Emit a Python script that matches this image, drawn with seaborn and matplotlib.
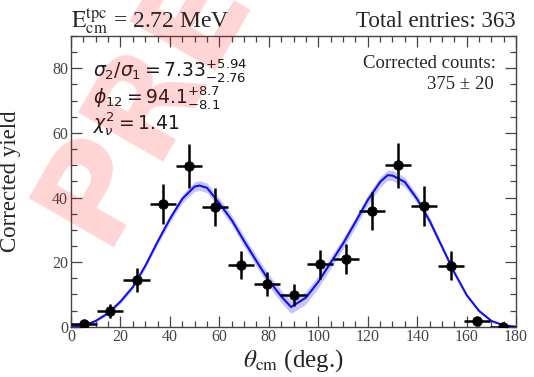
import numpy as np
import pandas as pd
import matplotlib
matplotlib.use("Agg")
import matplotlib.pyplot as plt
import seaborn as sns
from matplotlib.ticker import MultipleLocator

# measured points (bin centres, corrected yield, errors)
theta = [5.3, 15.9, 26.5, 37.1, 47.6, 58.2, 68.8, 79.4, 90.0,
         100.6, 111.2, 121.8, 132.4, 142.9, 153.5, 164.1, 174.7]
yld = [0.8, 4.9, 14.5, 38.1, 49.7, 37.1, 19.0, 13.1, 9.8,
       19.3, 21.0, 35.8, 50.0, 37.5, 18.9, 1.7, 0.0]
yerr = [0.8, 2.2, 3.8, 6.2, 6.8, 6.0, 4.3, 3.7, 3.4,
        4.6, 4.6, 5.9, 7.0, 6.2, 4.4, 1.2, 0.0]
xerr = [5.29] * len(theta)

# fit curve
fit_x = [0, 5, 10, 15, 20, 25, 30, 35, 40, 45, 50, 52, 55, 60, 65, 70, 75, 80, 85, 89,
         95, 100, 105, 110, 115, 120, 125, 128, 130, 135, 140, 145, 150, 155, 160, 165,
         170, 175, 180]
fit_y = [0.0, 0.3, 1.8, 4.2, 7.8, 12.3, 18.8, 26.3, 33.4, 39.6, 43.4, 43.7, 43.0, 38.2,
         33.0, 26.5, 20.3, 14.3, 9.4, 6.1, 9.0, 13.9, 19.8, 25.7, 32.4, 39.2, 44.8, 46.9,
         46.8, 44.8, 39.5, 32.8, 24.8, 16.8, 9.8, 4.9, 1.8, 0.4, 0.0]
band = [0.0, 0.1, 0.3, 0.5, 0.6, 0.7, 0.8, 0.9, 1.1, 1.3, 1.5, 1.5, 1.5, 1.5,
        1.5, 1.6, 1.7, 1.8, 1.9, 2.0, 2.0, 1.9, 1.8, 1.7, 1.6, 1.6, 1.6, 1.6,
        1.6, 1.5, 1.3, 1.1, 0.8, 0.6, 0.4, 0.3, 0.2, 0.1, 0.0]

pts = pd.DataFrame({"theta": theta, "yield": yld})
fit = pd.DataFrame({"theta": fit_x, "y": fit_y})

sns.set_style("ticks")
plt.rcParams["font.family"] = ["Liberation Serif", "DejaVu Serif"]
plt.rcParams["mathtext.fontset"] = "stix"

fig = plt.figure(figsize=(5.34, 3.77), dpi=100)
ax = fig.add_axes([0.133, 0.1334, 0.8335, 0.771])
ax.patch.set_alpha(0)

# watermark
fig.text(101 / 534, 1 - 247 / 377, "PRELIMINARY", rotation=60, rotation_mode="anchor",
         ha="left", va="baseline", fontsize=98, fontweight="bold",
         family="DejaVu Sans", color="red", alpha=0.17, zorder=0)

lo = [a - b for a, b in zip(fit_y, band)]
hi = [a + b for a, b in zip(fit_y, band)]
ax.fill_between(fit_x, lo, hi, color="#a8a8ff", alpha=0.65, lw=0, zorder=2)
sns.lineplot(data=fit, x="theta", y="y", ax=ax, color="#1010ee", lw=1.5, zorder=3)

ax.errorbar(theta, yld, xerr=xerr, yerr=yerr, fmt="none", ecolor="black",
            elinewidth=1.8, capsize=0, zorder=4)
sns.scatterplot(data=pts, x="theta", y="yield", ax=ax, color="black", s=48,
                edgecolor="black", zorder=5)

ax.set_xlim(0, 180)
ax.set_ylim(0, 90)
ax.xaxis.set_major_locator(MultipleLocator(20))
ax.xaxis.set_minor_locator(MultipleLocator(5))
ax.yaxis.set_major_locator(MultipleLocator(20))
ax.yaxis.set_minor_locator(MultipleLocator(5))
ax.tick_params(which="both", direction="in", top=True, right=True,
               colors="#444444", labelsize=11.5, width=0.9, pad=2)
ax.tick_params(which="major", length=8)
ax.tick_params(which="minor", length=4)
for s in ax.spines.values():
    s.set_color("#444444")
    s.set_linewidth(1.0)

ax.set_xlabel(r"$\theta_{\rm cm}$ (deg.)", fontsize=18)
ax.set_ylabel("Corrected yield", fontsize=16.5)
ax.xaxis.set_label_coords(0.5, -0.07)
ax.yaxis.set_label_coords(-0.113, 0.5)

fig.text(71 / 534, 1 - 27 / 377, r"$\mathrm{E}^{\mathrm{tpc}}_{\mathrm{cm}}$ = 2.72 MeV",
         fontsize=17, ha="left", va="baseline")
fig.text(516 / 534, 1 - 27 / 377, "Total entries: 363",
         fontsize=16.5, ha="right", va="baseline")

ax.text(0.05, 0.88, r"$\sigma_2/\sigma_1 = 7.33^{+5.94}_{-2.76}$", transform=ax.transAxes,
        fontsize=13.5, math_fontfamily="dejavusans", va="center", color="#1a1a1a")
ax.text(0.05, 0.79, r"$\phi_{12} = 94.1^{+8.7}_{-8.1}$", transform=ax.transAxes,
        fontsize=13.5, math_fontfamily="dejavusans", va="center", color="#1a1a1a")
ax.text(0.05, 0.70, r"$\chi^2_\nu = 1.41$", transform=ax.transAxes,
        fontsize=13.5, math_fontfamily="dejavusans", va="center", color="#1a1a1a")

ax.text(0.955, 0.905, "Corrected counts:", transform=ax.transAxes,
        fontsize=13.5, ha="right", va="center")
ax.text(0.95, 0.835, "375 \u00b1 20", transform=ax.transAxes,
        fontsize=13.5, ha="right", va="center")

fig.savefig("out.png", dpi=100)
